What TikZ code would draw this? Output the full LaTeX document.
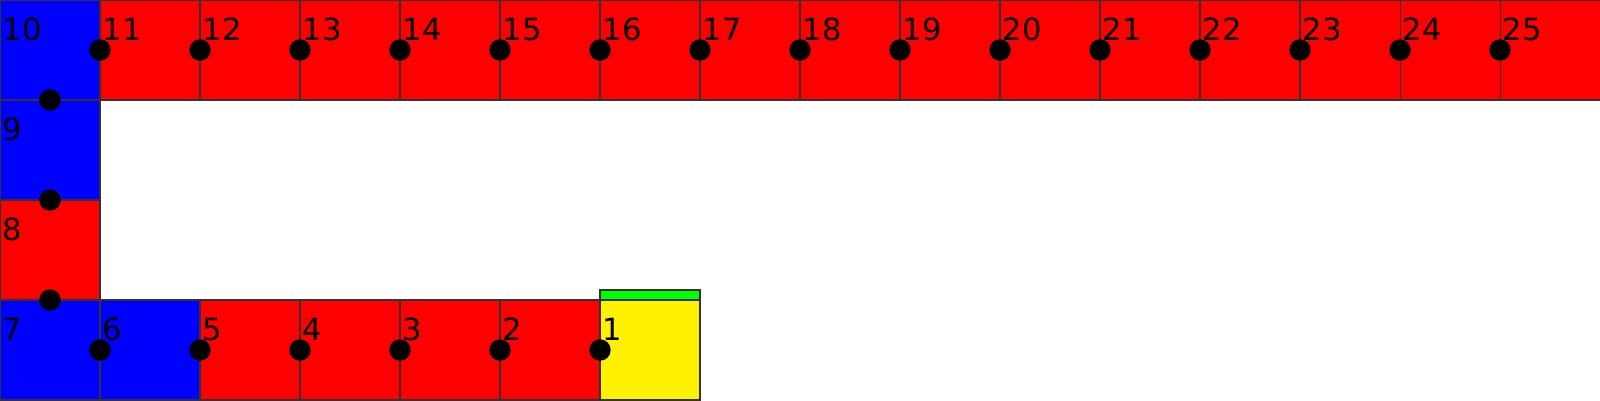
\documentclass[tikz,border=0pt]{standalone}
\usepackage{xcolor}
\usepackage{fontspec}
\setmainfont{DejaVu Sans}
\usepackage{tikz}
\tikzset{sq/.style={draw=black!80, line width=.3pt, minimum size=1cm, inner sep=0, outer sep=0, anchor=south west}}
\tikzset{num/.style={anchor=base west, inner sep=0, font=\fontsize{8.7}{10}\selectfont}}

\begin{document}
\begin{tikzpicture}
\useasboundingbox (0,0) rectangle (16,4);
% bottom row
\node[sq, fill=yellow] (sq1) at (6,0) {};
\foreach \n [evaluate=\n as \x using int(7-\n)] in {2,...,5} \node[sq, fill=red] (sq\n) at (\x,0) {};
\node[sq, fill=blue] (sq6) at (1,0) {};
\node[sq, fill=blue] (sq7) at (0,0) {};
% left column
\node[sq, fill=red] (sq8) at (0,1) {};
\node[sq, fill=blue] (sq9) at (0,2) {};
\node[sq, fill=blue] (sq10) at (0,3) {};
% top row
\foreach \n [evaluate=\n as \x using int(\n-10)] in {11,...,25} \node[sq, fill=red] (sq\n) at (\x,3) {};
\filldraw[fill=green, draw=black!80, line width=.3pt] (sq1.north west) rectangle ++(1,.1);
% numbers
\foreach \n in {1,...,25} \node[num] at ([xshift=.2mm, yshift=-4mm]sq\n.north west) {\n};
% dots
\foreach \x in {1,...,15} \filldraw[black] (\x,3.5) circle (1mm);
\foreach \y in {1,2,3} \filldraw[black] (.5,\y) circle (1mm);
\foreach \x in {1,...,6} \filldraw[black] (\x,.5) circle (1mm);
\end{tikzpicture}
\end{document}
